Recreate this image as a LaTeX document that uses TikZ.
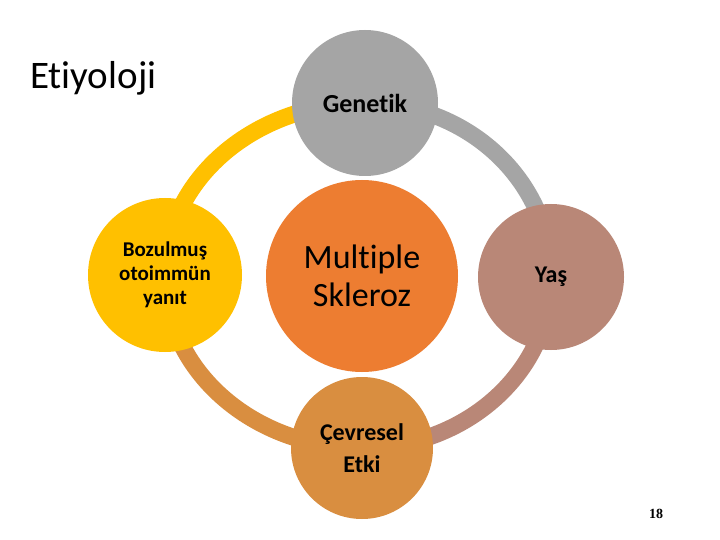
\documentclass[tikz,border=0pt]{standalone}
\usepackage{fontspec}
\setmainfont[Ligatures={NoCommon,NoRequired,NoContextual}]{Carlito}
\newfontfamily\pagefont{Liberation Serif}
\usetikzlibrary{backgrounds}
\definecolor{gold}{HTML}{FFC000}
\definecolor{silver}{HTML}{A5A5A5}
\definecolor{tangerine}{HTML}{ED7D31}
\definecolor{rosewood}{HTML}{B98777}
\definecolor{amber}{HTML}{D98E40}
\tikzset{bubble/.style={circle,inner sep=0pt,align=center,text=black}}
\tikzset{ring/.style={line width=17pt}}

\begin{document}
\begin{tikzpicture}[x=1pt,y=-1pt]
		\useasboundingbox (0,0) rectangle (720,540);
		\node[anchor=base west,inner sep=0pt,font=\fontsize{39}{46}\selectfont] (title) at (30,89) {Etiyoloji};
		% circles
		\node[bubble,fill=tangerine,minimum size=192pt,font=\fontsize{34}{38}\selectfont] (ms) at (362,276) {Multiple\\Skleroz};
		\node[bubble,fill=silver,minimum size=146pt,font=\fontsize{26}{30}\selectfont\bfseries] (genetik) at (365,103) {Genetik};
		\node[bubble,fill=gold,minimum size=154pt,font=\fontsize{21}{24}\selectfont\bfseries] (bozulmus) at (165,275) {Bozulmuş\\otoimmün\\yanıt};
		\node[bubble,fill=rosewood,minimum size=146pt,font=\fontsize{24}{28}\selectfont\bfseries] (yas) at (551,277) {Yaş};
		\node[bubble,fill=amber,minimum size=142pt,font=\fontsize{24}{32}\selectfont\bfseries] (cevre) at (362,448) {Çevresel\\Etki};
		\node[font=\pagefont\bfseries\fontsize{14}{16}\selectfont] (page) at (656,514) {18};
		% ring
		\begin{scope}[on background layer]
			\fill[white] (0,0) rectangle (720,540);
			\draw[ring,gold] (bozulmus.center) arc[start angle=180,end angle=90,x radius=200pt,y radius=172pt];
			\draw[ring,silver] (genetik.center) arc[start angle=90,end angle=0,x radius=186pt,y radius=174pt];
			\draw[ring,rosewood] (yas.center) arc[start angle=0,end angle=-90,x radius=189pt,y radius=171pt];
			\draw[ring,amber] (cevre.center) arc[start angle=270,end angle=180,x radius=197pt,y radius=173pt];
		\end{scope}
\end{tikzpicture}
\end{document}
